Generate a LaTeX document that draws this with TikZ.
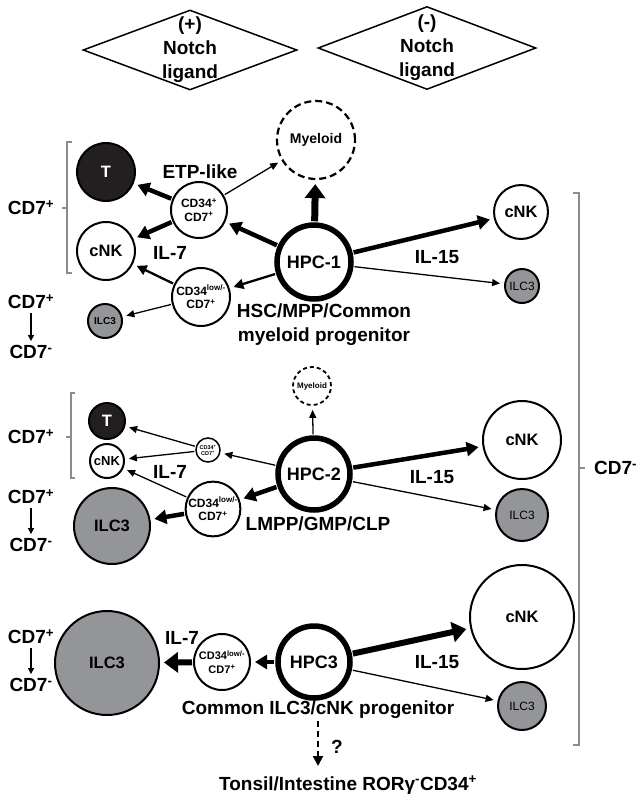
\documentclass[tikz,border=0pt]{standalone}
\usepackage{fontspec}
\setmainfont{Liberation Sans}
\usetikzlibrary{arrows.meta,shapes.geometric}
\definecolor{cellgray}{HTML}{939598}
\definecolor{cellblack}{HTML}{231F20}
\definecolor{brkgray}{HTML}{8C8C8C}

\begin{document}
\begin{tikzpicture}[x=1pt, y=-1pt,
  cell/.style={circle, draw, line width=2pt, inner sep=0pt, align=center, font=\bfseries\fontsize{16.5}{18}\selectfont},
  kcell/.style={cell, fill=cellblack, text=white},
  gcell/.style={cell, fill=cellgray},
  hpc/.style={cell, line width=5.5pt, font=\bfseries\fontsize{18}{20}\selectfont},
  myel/.style={cell, line width=2.2pt, dash pattern=on 7pt off 4pt},
  cdtxt/.style={font=\bfseries\fontsize{12}{13.5}\selectfont},
  lab/.style={inner sep=1pt, align=center, font=\bfseries\fontsize{19}{24}\selectfont},
  dia/.style={diamond, draw, line width=1.5pt, inner sep=0pt},
  brk/.style={draw=brkgray, line width=1.3pt},
  arr/.style={shorten >=4pt, shorten <=1pt},
  thn/.style={arr, line width=1.3pt, -{Triangle[length=8pt,width=7pt]}},
  mid/.style={arr, line width=2.3pt, -{Triangle[length=10pt,width=10pt]}},
  thk/.style={arr, line width=4.5pt, -{Triangle[length=12pt,width=14pt]}},
  fat/.style={arr, line width=7pt, -{Triangle[length=14pt,width=20pt]}}
]
\useasboundingbox (0,0) rectangle (637,796);

% Notch ligand
\node[dia, minimum width=214pt, minimum height=80pt] (dplus) at (190,50) {};
\node[lab] (tplus) at (dplus) {(+)\\Notch\\ligand};
\node[dia, minimum width=218pt, minimum height=83pt] (dminus) at (427,48) {};
\node[lab] (tminus) at (dminus) {(-)\\Notch\\ligand};

% HPC-1
\node[hpc, minimum size=74pt] (hpc1) at (314,262) {HPC-1};
\node[myel, minimum size=78pt, font=\bfseries\fontsize{14}{16}\selectfont] (my1) at (316,140) {Myeloid};
\node[kcell, minimum size=58pt] (t1) at (106,172) {T};
\node[cell, minimum size=58pt] (nk1a) at (106,251) {cNK};
\node[cell, cdtxt, minimum size=56pt] (cd1a) at (199,210) {CD34\textsuperscript{+}\\CD7\textsuperscript{+}};
\node[cell, cdtxt, minimum size=58pt] (cd1b) at (201,297) {CD34\textsuperscript{low/-}\\CD7\textsuperscript{+}};
\node[gcell, minimum size=34pt, font=\bfseries\fontsize{10}{12}\selectfont] (ilc1a) at (105,321) {ILC3};
\node[cell, minimum size=54pt] (nk1b) at (521,212) {cNK};
\node[gcell, minimum size=34pt, font=\fontsize{12}{14}\selectfont] (ilc1b) at (522,286) {ILC3};
\node[lab] (etp) at (200,172) {ETP-like};
\node[lab] (hsc) at (324,325) {HSC/MPP/Common\\myeloid progenitor};

\draw[fat] (hpc1) -- (my1);
\draw[thk] (cd1a) -- (t1);
\draw[thk] (cd1a) -- (nk1a);
\draw[thn] (cd1a) -- (my1);
\draw[thk] (hpc1) -- (cd1a);
\draw[mid] (hpc1) -- (cd1b);
\draw[mid] (cd1b) -- (nk1a);
\draw[thn] (cd1b) -- (ilc1a);
\draw[thk] (hpc1) -- (nk1b);
\draw[thn] (hpc1) -- (ilc1b);

% HPC-2
\node[hpc, minimum size=72pt] (hpc2) at (314,474) {HPC-2};
\node[myel, minimum size=38pt, line width=1.8pt, dash pattern=on 4pt off 3pt, font=\bfseries\fontsize{8}{9}\selectfont] (my2) at (312,386) {Myeloid};
\node[kcell, minimum size=36pt] (t2) at (107,421) {T};
\node[cell, minimum size=34pt, font=\bfseries\fontsize{13}{15}\selectfont] (nk2) at (107,461) {cNK};
\node[cell, line width=1.5pt, minimum size=24pt, font=\bfseries\fontsize{5.5}{6}\selectfont] (cd2a) at (208,450) {CD34\textsuperscript{+}\\CD7\textsuperscript{+}};
\node[cell, cdtxt, minimum size=54pt] (cd2b) at (213,509) {CD34\textsuperscript{low/-}\\CD7\textsuperscript{+}};
\node[gcell, minimum size=76pt] (ilc2) at (112,526) {ILC3};
\node[cell, minimum size=78pt] (nk2r) at (522,440) {cNK};
\node[gcell, minimum size=52pt, font=\fontsize{12}{14}\selectfont] (ilc2r) at (522,515) {ILC3};
\node[lab] (lmpp) at (318,524) {LMPP/GMP/CLP};

\draw[thn] (hpc2) -- (my2);
\draw[thn] (hpc2) -- (cd2a);
\draw[thn] (cd2a) -- (t2);
\draw[thn] (cd2a) -- (nk2);
\draw[thn] (cd2b) -- (nk2);
\draw[thk] (hpc2) -- (cd2b);
\draw[thk] (cd2b) -- (ilc2);
\draw[thk] (hpc2) -- (nk2r);
\draw[thn] (hpc2) -- (ilc2r);

% HPC3
\node[hpc, minimum size=72pt] (hpc3) at (314,662) {HPC3};
\node[cell, cdtxt, minimum size=56pt, font=\bfseries\fontsize{11}{13.5}\selectfont] (cd3) at (222,662) {CD34\textsuperscript{low/-}\\CD7\textsuperscript{+}};
\node[gcell, minimum size=104pt] (ilc3) at (107,663) {ILC3};
\node[cell, minimum size=104pt] (nk3r) at (522,617) {cNK};
\node[gcell, minimum size=48pt, font=\fontsize{12}{14}\selectfont] (ilc3r) at (522,706) {ILC3};
\node[lab] (cmn) at (318,710) {Common ILC3/cNK progenitor};
\node[lab] (tons) at (348,785) {Tonsil/Intestine RORγ\textsuperscript{-}CD34\textsuperscript{+}};
\node[lab] (qm) at (337,747) {?};
\coordinate (qend) at (318,770);

\draw[thk] (hpc3) -- (cd3);
\draw[fat, line width=6pt] (cd3) -- (ilc3);
\draw[fat, line width=6pt] (hpc3) -- (nk3r);
\draw[thn] (hpc3) -- (ilc3r);
\draw[mid, line width=2pt, dash pattern=on 6pt off 4pt] (cmn.south -| qend) -- (qend);

% cytokines
\foreach \x/\y/\t in {170/253/IL-7, 170/472/IL-7, 182/638/IL-7, 437/257/IL-15, 432/477/IL-15, 437/662/IL-15}
  \node[lab] at (\x,\y) {\t};

% CD7 brackets
\draw[brk] (72,142) -- (67,142) -- (67,273) -- (72,273) (67,208) -- (62,208);
\draw[brk] (75,393) -- (71,393) -- (71,478) -- (75,478) (71,437) -- (66,437);
\draw[brk] (573,193) -- (579,193) -- (579,745) -- (573,745) (579,468) -- (585,468);
\node[lab] (cdp1) at (31,208) {CD7\textsuperscript{+}};
\node[lab] (cdp2) at (31,437) {CD7\textsuperscript{+}};
\node[lab, anchor=west] (cdm) at (593,468) {CD7\textsuperscript{-}};
\foreach \i/\ya/\yb in {1/302/352, 2/497/545, 3/637/685} {
  \node[lab] (up\i) at (31,\ya) {CD7\textsuperscript{+}};
  \node[lab] (dn\i) at (31,\yb) {CD7\textsuperscript{-}};
  \draw[line width=1.3pt, -{Triangle[length=6pt,width=6pt]}, shorten >=3pt, shorten <=3pt] (up\i) -- (dn\i);
}
\end{tikzpicture}
\end{document}
